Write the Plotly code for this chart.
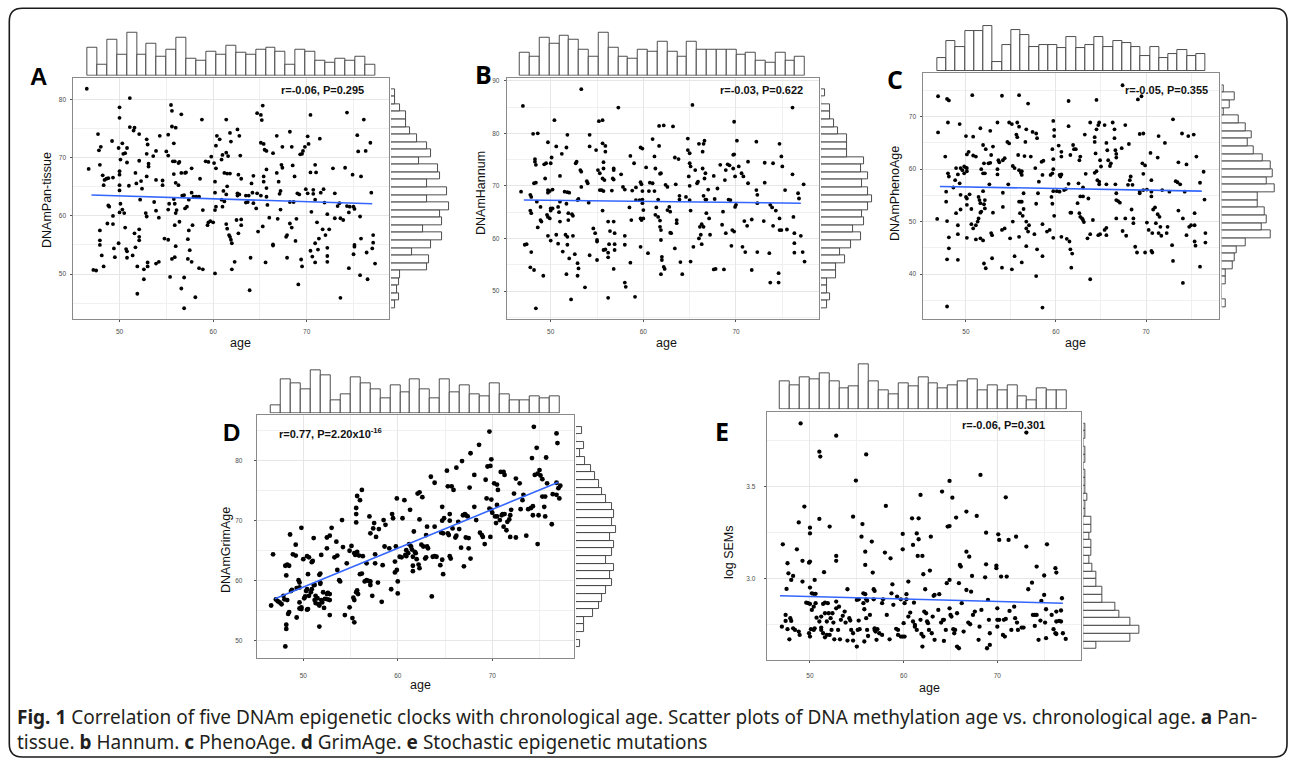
import numpy as np
import plotly.graph_objects as go

W, H = 1290, 768

# ======================= DATA =======================
# Panel A: age vs DNAmPan-tissue
A_points = [(46.5,81.9),(46.7,68.1),(47.2,50.7),(47.5,50.6),(47.7,74.1),(47.8,71.3),(47.9,68.8),(48.0,71.9),(48.2,67.0),(48.3,65.3),
(48.4,66.2),(47.9,57.5),(47.9,55.8),(47.9,55.0),(48.1,53.2),(48.3,51.3),(48.6,66.4),(48.8,66.5),(48.8,61.8),(48.9,61.6),
(48.7,58.7),(49.2,72.9),(49.3,66.6),(49.3,60.0),(49.3,58.6),(49.4,54.4),(49.5,52.9),(49.9,71.7),(50.0,67.1),(50.0,67.7),
(50.0,78.7),(50.0,76.9),(50.0,65.3),(50.0,64.4),(50.1,62.1),(50.0,60.6),(49.9,55.3),(50.1,69.7),(50.3,72.5),(50.4,70.7),
(50.6,70.8),(50.3,61.1),(50.5,60.5),(50.6,58.0),(50.7,54.3),(50.8,53.9),(50.8,52.8),(50.8,71.7),(50.8,69.2),(51.1,80.3),
(51.1,75.3),(51.6,75.2),(51.5,74.7),(51.0,65.2),(51.4,53.2),(51.7,67.4),(51.8,65.6),(51.7,54.6),(51.6,57.0),(52.1,74.1),
(52.1,69.5),(52.2,62.8),(52.1,57.7),(52.1,56.4),(52.1,55.8),(51.9,51.3),(51.9,46.6),(52.3,66.0),(52.4,64.7),(52.6,50.8),
(52.6,49.1),(52.9,73.2),(53.0,72.3),(52.9,70.7),(52.9,66.8),(53.1,69.0),(53.1,68.5),(52.8,60.5),(52.9,59.9),(53.0,52.0),
(53.0,51.3),(53.6,70.3),(53.9,71.2),(53.9,66.2),(53.7,62.4),(53.9,60.9),(54.2,59.7),(53.9,51.8),(54.2,52.1),(54.3,73.8),
(54.6,66.1),(54.6,65.3),(54.8,56.1),(55.2,55.9),(55.0,71.1),(55.2,70.4),(55.2,74.0),(55.2,61.1),(55.3,62.1),(55.4,49.5),
(55.5,79.1),(55.6,78.1),(55.6,75.4),(56.0,75.2),(55.8,72.5),(55.7,69.4),(55.9,69.4),(56.3,69.1),(56.4,69.3),(55.8,67.2),
(56.0,65.7),(55.8,62.9),(55.9,62.1),(56.1,61.0),(56.0,60.5),(55.9,58.4),(56.0,54.8),(55.6,52.6),(55.9,52.9),(56.4,59.0),
(56.3,65.3),(56.6,77.5),(56.6,67.4),(57.0,67.4),(57.1,67.5),(56.7,63.5),(56.9,63.6),(57.0,61.3),(57.2,61.6),(57.4,62.8),
(57.7,64.0),(57.4,57.5),(57.3,56.0),(57.5,54.1),(57.3,52.6),(57.7,52.1),(56.6,47.5),(56.9,49.4),(58.1,46.0),(56.9,44.1),
(57.7,68.2),(57.8,58.4),(57.9,63.3),(58.2,63.3),(58.5,63.3),(58.5,51.0),(58.9,50.8),(58.8,76.6),(58.6,66.4),(58.9,61.0),
(59.2,69.4),(59.5,69.3),(59.4,58.4),(59.5,58.9),(59.7,59.1),(60.0,58.9),(59.8,70.2),(60.1,69.1),(60.3,72.1),(60.4,73.8),
(60.2,65.9),(60.3,68.2),(60.2,64.0),(60.3,61.6),(60.2,61.0),(60.2,50.1),(60.7,73.2),(60.9,69.7),(61.0,70.5),(60.9,62.8),
(61.0,61.6),(61.1,64.3),(61.2,67.4),(61.4,76.6),(61.4,70.9),(61.6,70.3),(61.5,67.3),(61.8,67.3),(61.5,65.1),(61.4,63.7),
(61.2,62.5),(61.4,58.6),(61.5,57.8),(61.7,56.7),(61.8,56.4),(61.9,55.9),(62.0,55.3),(62.0,50.8),(62.3,52.1),(61.8,74.3),
(61.9,72.8),(62.6,74.9),(62.8,73.8),(62.9,70.4),(62.7,67.1),(63.0,66.4),(62.6,63.9),(62.6,63.5),(62.8,63.7),(62.5,59.3),
(63.0,59.4),(62.7,57.0),(63.0,58.4),(63.5,63.5),(63.8,63.5),(64.2,64.0),(63.5,62.3),(63.7,62.4),(63.9,47.2),(64.0,52.8),
(64.1,65.6),(64.3,66.9),(64.3,62.2),(64.6,61.3),(64.7,77.7),(65.1,77.4),(65.3,79.0),(65.2,76.5),(65.1,72.6),(65.4,72.4),
(65.4,66.8),(65.4,65.9),(64.7,63.9),(65.1,63.5),(64.8,57.3),(65.3,58.2),(65.6,52.0),(65.5,71.4),(65.7,71.2),(65.7,68.0),
(65.7,64.8),(65.7,63.3),(65.8,61.9),(66.0,59.7),(66.4,55.1),(66.4,54.9),(66.4,70.8),(66.8,73.8),(66.8,67.4),(67.0,65.9),
(67.2,64.3),(67.1,63.8),(66.9,59.5),(67.2,61.1),(67.3,68.8),(67.4,68.3),(67.4,71.9),(67.9,52.8),(67.8,56.4),(67.9,56.7),
(68.2,74.5),(68.2,62.4),(68.6,62.4),(68.2,58.7),(68.4,58.0),(68.4,71.9),(68.5,68.7),(68.7,66.8),(68.8,55.7),(69.1,48.2),
(69.3,70.6),(69.5,70.7),(69.6,71.2),(69.8,71.9),(69.0,63.9),(69.2,63.7),(69.4,52.5),(69.5,51.3),(68.9,59.5),(69.9,64.6),
(70.1,63.9),(70.1,73.7),(70.2,72.4),(70.4,77.4),(70.4,67.5),(70.5,60.7),(70.4,54.0),(70.6,53.0),(70.7,64.5),(70.7,63.8),
(70.9,68.8),(71.0,67.5),(70.9,62.8),(70.9,52.0),(70.9,55.3),(71.1,58.9),(71.2,54.2),(71.3,56.1),(71.5,64.0),(71.4,73.3),
(71.7,57.7),(71.8,64.6),(71.9,62.3),(72.2,60.3),(72.0,56.7),(72.2,54.5),(72.2,53.1),(72.2,52.1),(72.4,57.7),(72.8,68.2),
(73.0,63.9),(73.3,61.7),(73.5,62.2),(73.0,59.6),(73.6,59.6),(73.9,59.3),(73.6,45.9),(74.1,68.3),(74.3,61.7),(74.3,77.8),
(74.5,51.0),(74.5,60.6),(74.6,61.6),(75.0,61.6),(75.1,61.2),(74.9,67.1),(75.1,55.0),(75.0,53.4),(75.1,54.7),(75.4,73.9),
(75.5,71.1),(75.8,66.8),(75.7,59.9),(75.8,56.1),(75.7,49.8),(76.1,76.6),(76.3,71.2),(76.4,53.7),(76.5,49.1),(76.8,72.6),
(76.9,64.0),(77.0,54.4),(77.1,55.4),(77.1,56.7),(77.3,51.8)]
A_fit_age = [47.0, 77.0]
A_fit_val = [63.6, 62.1]
A_top_counts = [15,6,19,11,23,11,17,10,14,20,9,8,13,11,16,12,11,14,15,13,6,14,13,8,7,9,8,10,6]
A_top_range = [46.55, 77.29]
A_right_counts = [2,4,3,4,5,19,20,11,21,27,17,27,26,31,19,30,19,26,25,15,21,19,14,10,8,8,5,2,2]
A_right_range = [44.09, 81.86]

# Panel B: age vs DNAmHannum
B_points = [(46.8,68.9),(47.0,85.2),(47.2,58.8),(47.4,58.9),(47.8,68.3),(47.9,67.9),(47.8,65.3),(47.9,64.8),(47.9,57.4),(47.8,54.5),
(48.2,54.0),(48.1,79.9),(48.6,80.0),(48.3,75.1),(48.3,74.6),(48.4,74.0),(48.2,70.5),(48.4,70.6),(48.4,46.7),(48.5,67.0),
(48.6,62.1),(48.9,63.5),(49.0,63.2),(48.9,66.0),(49.2,52.9),(49.3,74.1),(49.5,74.3),(49.4,71.4),(49.7,78.3),(49.7,69.2),
(49.7,68.7),(49.9,69.0),(49.6,64.5),(49.7,64.1),(49.9,63.8),(49.7,60.5),(50.0,59.6),(50.0,65.7),(50.0,65.3),(50.2,65.7),
(50.0,74.3),(50.1,75.4),(50.2,69.3),(50.4,82.5),(50.6,77.5),(50.6,60.7),(50.8,59.0),(50.8,66.0),(50.9,65.0),(51.0,63.2),
(51.0,71.9),(51.0,67.0),(51.2,76.1),(51.3,57.5),(51.6,60.7),(51.8,60.3),(51.8,58.8),(51.5,68.9),(51.8,68.8),(52.0,68.7),
(51.7,77.3),(51.8,79.7),(51.7,66.6),(51.9,64.8),(51.9,63.5),(52.0,56.2),(51.7,53.2),(52.2,48.4),(52.3,64.6),(52.4,64.3),
(52.4,60.5),(52.6,57.0),(52.7,74.3),(52.8,74.6),(52.9,67.3),(53.0,67.5),(52.9,55.3),(53.0,54.3),(52.9,52.9),(53.2,73.0),
(53.3,72.7),(53.3,69.8),(53.3,88.4),(53.7,50.7),(53.9,70.9),(54.0,70.5),(54.1,66.8),(54.2,56.8),(54.2,79.7),(54.2,77.5),
(54.6,61.9),(54.8,61.0),(54.9,76.8),(55.0,59.7),(55.0,59.4),(55.0,55.9),(55.1,73.0),(55.3,72.4),(55.2,82.3),(55.6,82.5),
(55.3,69.2),(55.5,69.2),(55.7,69.0),(55.6,78.1),(55.9,77.6),(55.7,74.5),(55.7,73.3),(55.6,71.4),(55.8,71.1),(55.6,65.3),
(55.7,57.8),(55.9,57.9),(55.9,76.5),(56.2,56.4),(56.2,57.3),(56.2,63.2),(56.4,61.4),(56.2,48.7),(56.3,58.9),(56.6,69.1),
(56.8,73.3),(56.8,73.0),(56.7,71.4),(56.8,71.2),(56.8,63.2),(56.9,61.0),(56.9,57.8),(56.9,58.9),(56.8,54.2),(57.3,84.9),
(57.6,72.2),(57.8,69.8),(58.0,69.3),(58.0,60.5),(58.0,58.8),(58.0,51.6),(58.1,50.8),(58.5,65.9),(58.6,55.4),(58.6,75.7),
(58.7,63.5),(58.8,69.1),(59.0,74.3),(59.1,48.9),(59.2,69.7),(59.2,67.3),(59.6,67.3),(59.9,67.4),(59.7,70.7),(59.8,70.3),
(59.9,69.0),(59.7,77.3),(59.9,77.1),(59.7,58.4),(59.7,63.8),(59.8,63.5),(60.0,63.8),(59.9,66.7),(60.0,65.4),(60.3,73.5),
(60.6,69.0),(60.5,57.2),(60.7,70.6),(61.0,70.5),(61.2,69.0),(61.0,78.9),(61.2,75.6),(61.3,73.3),(61.4,65.9),(61.3,64.5),
(61.6,64.1),(61.8,63.4),(61.6,67.4),(61.7,81.4),(62.2,81.5),(61.7,77.6),(61.8,72.3),(61.9,72.4),(61.8,62.2),(61.9,61.6),
(61.9,59.7),(62.0,56.5),(62.0,55.9),(62.2,54.6),(62.3,54.2),(61.9,53.2),(62.4,70.2),(62.6,69.8),(62.6,65.4),(62.8,66.0),
(62.9,65.1),(62.9,61.1),(63.0,61.0),(63.2,81.3),(63.4,75.4),(63.8,75.1),(63.4,58.1),(63.5,70.3),(63.6,63.5),(63.6,62.9),
(63.9,68.1),(63.9,67.4),(64.0,55.5),(64.2,53.2),(64.6,67.9),(64.8,79.0),(64.8,76.8),(65.0,76.2),(64.9,71.8),(65.0,70.0),
(65.0,74.3),(65.1,73.7),(65.0,67.3),(65.1,65.3),(65.1,55.6),(65.3,85.4),(65.4,58.4),(65.6,73.0),(65.8,70.5),(65.9,70.8),
(66.0,60.0),(66.0,78.0),(66.5,78.0),(66.1,62.2),(66.3,62.7),(66.5,62.2),(66.2,60.7),(66.3,58.9),(66.4,76.5),(66.6,78.6),
(66.4,73.3),(66.7,72.4),(66.5,68.1),(66.7,67.4),(66.6,71.4),(66.8,67.4),(67.0,69.3),(66.8,64.8),(67.1,63.8),(67.2,60.7),
(67.6,54.1),(67.8,54.2),(67.6,71.9),(67.7,67.5),(68.0,69.5),(68.3,74.0),(68.5,62.6),(68.6,65.1),(68.7,54.1),(68.8,71.1),
(68.9,73.0),(69.1,74.1),(69.3,73.9),(68.9,61.0),(69.2,67.4),(69.4,67.3),(69.5,58.6),(69.7,75.9),(69.8,76.0),(69.7,73.3),
(69.9,71.8),(69.6,61.6),(69.8,61.3),(69.8,82.2),(69.9,66.0),(70.0,66.4),(70.1,78.6),(70.3,73.7),(70.6,72.4),(70.8,71.8),
(70.7,58.4),(71.0,57.4),(70.9,63.3),(71.2,62.4),(71.3,70.5),(71.3,74.6),(71.7,54.0),(71.7,63.6),(72.2,78.4),(72.2,69.2),
(72.3,68.3),(72.3,57.4),(72.3,66.7),(73.1,70.6),(73.0,63.3),(73.1,74.4),(73.7,66.4),(73.9,65.9),(73.6,57.2),(73.7,51.6),
(74.0,74.3),(74.0,62.4),(74.3,65.3),(74.6,53.4),(74.6,51.6),(74.7,78.0),(74.7,63.8),(74.7,61.6),(74.9,61.6),(74.9,75.6),
(75.0,73.7),(75.3,69.2),(75.5,61.7),(76.1,84.9),(76.1,72.2),(76.2,64.1),(76.3,61.0),(76.3,59.1),(76.3,57.3),(76.7,68.6),
(76.8,67.6),(77.0,60.5),(77.2,57.4),(77.3,70.3),(77.4,55.6)]
B_fit_age = [47.1, 77.0]
B_fit_val = [67.3, 66.7]
B_top_counts = [12,10,20,17,21,19,14,10,23,15,10,9,14,13,18,13,10,18,14,14,14,14,11,12,8,7,12,8,10]
B_top_range = [46.69, 77.45]
B_right_counts = [3,5,3,3,8,8,13,10,16,21,17,23,22,25,27,25,22,25,21,23,14,14,14,9,7,5,5,0,2]
B_right_range = [46.71, 88.42]

# Panel C: age vs DNAmPhenoAge
C_points = [(46.9,73.9),(46.9,67.0),(46.8,50.5),(47.7,62.4),(47.8,55.7),(47.8,53.8),(47.9,73.4),(48.1,73.1),(48.0,68.9),(48.0,59.2),
(48.1,58.6),(47.9,50.1),(47.9,42.8),(48.1,44.9),(48.1,47.0),(47.9,33.8),(48.6,56.5),(48.8,57.9),(48.9,60.2),(49.1,59.0),
(48.9,51.6),(49.1,49.3),(49.1,47.6),(49.1,42.7),(49.3,68.6),(49.4,60.2),(49.6,59.8),(49.8,59.2),(49.3,57.3),(49.4,55.1),
(49.4,52.3),(49.8,60.5),(50.0,60.3),(50.1,59.6),(50.1,60.2),(50.0,66.3),(50.1,62.8),(50.0,54.7),(50.1,54.4),(50.1,53.2),
(50.1,46.9),(50.3,63.3),(50.4,55.2),(50.6,52.4),(50.6,49.5),(50.8,48.7),(50.7,74.1),(50.8,66.2),(50.8,62.6),(51.1,49.3),
(51.1,62.4),(51.1,46.6),(51.3,50.0),(51.4,50.6),(51.6,51.7),(51.4,54.7),(51.5,54.1),(51.6,53.5),(51.6,67.8),(51.6,46.8),
(51.9,46.4),(51.7,60.0),(52.0,61.1),(51.9,64.6),(52.2,63.8),(51.9,59.2),(52.1,59.2),(51.9,55.8),(52.1,54.1),(52.0,53.3),
(52.1,52.5),(52.0,42.0),(52.2,41.1),(51.7,51.9),(52.5,61.1),(52.7,61.2),(52.6,57.1),(52.7,67.3),(52.8,62.7),(52.8,47.8),
(52.9,47.4),(53.0,51.7),(53.0,64.3),(52.9,43.0),(53.5,68.9),(53.5,60.0),(53.5,59.0),(53.6,61.7),(53.7,61.3),(54.0,74.0),
(54.0,41.2),(54.0,48.4),(54.1,52.8),(54.1,61.7),(54.3,62.1),(54.1,55.5),(54.3,48.7),(54.6,65.2),(54.8,64.9),(54.7,57.1),
(54.8,68.9),(55.1,68.6),(54.9,46.8),(55.1,40.9),(55.2,60.6),(55.4,60.2),(55.2,50.0),(55.4,43.4),(55.6,66.6),(55.7,66.1),
(55.7,68.9),(55.9,68.1),(55.8,62.7),(55.9,74.1),(55.9,59.8),(56.1,59.3),(56.2,59.6),(55.9,53.8),(56.1,53.8),(56.2,53.8),
(55.9,47.1),(56.2,58.9),(56.0,51.6),(56.3,51.1),(56.2,42.2),(56.4,55.4),(56.4,52.4),(56.5,62.5),(56.6,65.2),(56.7,50.0),
(56.7,48.7),(56.9,48.1),(56.7,45.3),(56.7,67.6),(56.9,72.5),(57.0,49.3),(57.2,62.4),(57.4,67.1),(57.8,66.8),(57.6,47.6),
(57.7,60.2),(57.8,53.4),(57.9,44.7),(57.9,65.9),(58.0,55.4),(57.8,39.6),(58.1,57.6),(58.4,61.4),(58.6,61.6),(58.5,58.9),
(58.5,49.5),(58.5,43.4),(58.5,33.6),(59.0,48.1),(59.3,48.4),(59.5,54.7),(59.7,55.8),(59.4,58.9),(59.6,59.2),(59.7,60.0),
(59.7,61.9),(59.6,63.8),(59.7,69.2),(59.8,67.5),(59.8,66.3),(59.6,53.4),(59.8,51.1),(59.7,46.9),(60.1,55.8),(60.4,55.7),
(60.3,64.5),(60.4,58.9),(60.6,59.0),(60.5,58.6),(60.6,63.3),(60.6,62.4),(60.6,47.1),(60.9,56.0),(61.1,56.2),(61.2,46.7),
(61.4,68.2),(61.4,57.2),(61.4,73.0),(61.5,46.2),(61.6,51.7),(61.7,51.7),(61.6,44.7),(61.8,43.9),(61.6,62.7),(61.9,64.6),
(61.7,41.2),(62.0,63.8),(62.2,63.8),(62.4,53.5),(62.5,57.3),(62.6,61.7),(62.7,62.4),(62.6,51.6),(62.7,50.9),(62.7,54.8),
(63.0,54.8),(62.9,50.6),(63.0,50.3),(63.0,56.5),(63.1,49.9),(63.2,66.6),(63.3,59.1),(63.5,46.8),(63.6,54.4),(63.8,39.0),
(63.8,68.9),(63.8,47.6),(64.1,50.3),(64.3,65.2),(64.3,66.1),(64.3,59.3),(64.5,59.6),(64.4,63.0),(64.5,67.6),(64.7,68.4),
(64.8,68.9),(64.5,73.2),(64.6,57.9),(64.8,57.6),(64.7,47.4),(64.9,47.6),(64.8,57.1),(64.9,61.7),(65.0,60.5),(65.4,48.4),
(65.6,48.8),(65.4,68.4),(65.6,47.4),(65.6,57.1),(65.6,65.0),(65.7,63.6),(65.8,61.7),(66.0,60.6),(66.1,61.1),(66.3,68.9),
(66.5,67.6),(66.5,65.9),(66.6,63.6),(66.7,62.9),(66.7,62.2),(66.6,57.1),(66.7,55.4),(66.7,54.1),(66.9,53.9),(67.1,53.6),
(66.7,50.6),(67.3,64.0),(67.4,48.2),(67.7,68.4),(67.7,50.6),(67.8,47.3),(68.0,57.0),(68.2,57.9),(68.1,64.8),(68.3,58.6),
(68.4,52.3),(68.6,50.6),(68.6,49.7),(68.5,57.0),(69.0,44.1),(69.9,44.1),(68.8,45.2),(69.1,73.3),(69.3,66.7),(69.3,55.7),
(69.3,55.4),(69.5,73.9),(69.6,61.1),(69.7,66.8),(69.7,59.1),(69.7,56.0),(70.1,56.1),(69.9,60.7),(70.1,49.8),(70.3,48.4),
(70.5,63.1),(70.6,55.7),(70.6,54.8),(70.6,57.9),(70.6,44.4),(70.7,44.1),(70.7,47.8),(70.8,52.3),(71.0,52.7),(71.1,49.7),
(71.3,62.2),(71.3,51.4),(71.5,50.9),(71.4,66.3),(71.4,47.8),(71.6,49.0),(71.8,56.0),(71.7,47.3),(72.1,65.0),(72.3,47.8),
(72.4,49.0),(72.6,55.7),(72.9,45.5),(73.0,69.5),(73.0,42.5),(73.3,57.7),(73.5,57.5),(73.6,61.3),(73.8,57.1),(73.6,52.1),
(74.0,66.8),(74.1,50.6),(74.1,38.3),(74.3,55.7),(74.5,60.9),(74.5,47.4),(74.7,66.3),(74.8,49.0),(75.0,49.3),(75.4,49.3),
(75.3,66.6),(75.4,51.6),(75.4,46.2),(75.5,45.4),(75.6,62.4),(76.0,57.4),(76.0,41.4),(76.4,59.5),(76.5,54.2),(76.6,47.8),
(76.6,46.0),(67.4,76.0)]
C_fit_age = [47.1, 76.2]
C_fit_val = [56.7, 55.8]
C_top_counts = [7,16,13,21,21,24,5,14,22,19,13,14,14,12,18,12,14,18,13,16,15,13,8,13,7,9,11,8,9]
C_top_range = [46.81, 76.59]
C_right_counts = [2,0,0,2,2,6,7,8,13,26,21,24,23,19,19,28,24,27,26,22,17,14,16,13,9,1,4,7,1]
C_right_range = [33.65, 76.05]

# Panel D: age vs DNAmGrimAge
D_points = [(46.6,55.9),(46.8,64.4),(47.1,56.9),(47.3,56.6),(47.5,56.4),(47.7,56.1),(47.9,57.5),(48.0,56.9),(48.1,62.5),(48.3,62.7),
(48.5,62.5),(48.2,60.9),(48.2,52.7),(48.2,52.0),(48.1,49.1),(48.3,56.8),(48.4,54.5),(48.5,54.8),(48.6,67.7),(48.7,58.3),
(48.8,58.5),(48.9,64.4),(49.2,64.2),(49.2,66.0),(49.3,58.8),(49.5,60.1),(49.3,53.9),(49.6,56.4),(49.6,59.7),(49.6,58.9),
(49.6,55.4),(49.8,55.3),(49.8,55.6),(49.8,68.8),(50.0,63.6),(50.1,57.1),(50.2,57.4),(50.3,58.3),(50.4,58.6),(50.4,55.2),
(50.5,55.3),(50.4,64.1),(50.6,63.9),(50.5,61.1),(50.6,57.5),(50.8,58.1),(50.9,58.6),(50.9,63.1),(51.0,63.3),(51.1,59.3),
(51.2,59.3),(51.2,56.8),(51.3,56.3),(51.1,67.1),(51.3,57.5),(51.5,57.1),(51.6,56.1),(51.7,55.9),(51.7,61.0),(51.8,61.2),
(51.8,59.5),(51.8,59.7),(51.7,52.4),(51.9,64.3),(51.9,56.8),(52.0,56.4),(52.1,58.1),(52.3,57.0),(52.5,57.8),(52.2,55.5),
(52.5,65.4),(52.5,67.2),(52.8,67.5),(52.6,58.0),(52.8,57.8),(52.6,56.9),(52.8,56.8),(52.8,54.3),(53.0,68.8),(53.3,63.9),
(53.5,66.5),(53.6,64.2),(53.6,61.8),(53.8,60.1),(53.9,59.9),(54.1,70.1),(54.2,65.6),(54.4,54.3),(54.6,62.9),(54.9,55.6),
(54.9,65.0),(55.1,65.8),(55.2,53.8),(55.4,53.1),(55.3,57.2),(55.4,56.8),(55.4,64.6),(55.5,64.3),(55.6,71.1),(55.6,72.1),
(56.0,73.4),(55.6,58.1),(55.7,58.4),(55.6,69.7),(55.7,74.1),(55.7,64.8),(55.9,64.2),(55.8,57.8),(56.0,61.1),(56.2,61.2),
(56.2,75.1),(56.3,64.1),(56.5,59.9),(56.7,60.1),(56.7,62.9),(56.9,60.0),(57.1,59.9),(57.1,59.3),(57.0,70.7),(57.1,67.9),
(57.4,68.7),(57.3,57.5),(57.5,69.6),(57.6,64.4),(57.6,62.9),(57.7,67.3),(57.9,59.7),(58.0,68.6),(58.3,56.5),(58.4,62.6),
(58.5,70.1),(58.6,65.7),(58.7,69.3),(59.1,65.4),(59.3,58.6),(59.4,71.1),(59.5,70.4),(59.8,65.7),(59.7,63.2),(59.7,61.4),
(59.9,61.8),(59.9,73.7),(60.0,59.9),(60.0,57.9),(60.2,64.0),(60.4,63.9),(60.5,70.4),(60.7,73.4),(60.8,64.3),(60.9,64.1),
(60.9,65.1),(61.1,64.6),(61.2,66.1),(61.4,65.7),(61.3,71.8),(61.5,65.2),(61.6,64.0),(61.6,62.5),(61.6,61.6),(61.7,68.2),
(61.8,64.8),(61.9,64.6),(62.0,63.6),(62.2,62.7),(62.1,74.5),(62.3,74.7),(62.3,70.2),(62.3,62.1),(62.5,66.0),(62.7,65.7),
(62.6,73.9),(62.9,63.7),(63.0,63.9),(63.1,65.7),(63.2,65.4),(63.1,69.0),(63.0,67.6),(63.5,77.3),(63.6,57.4),(63.7,64.0),
(63.9,64.1),(64.1,64.0),(63.9,76.3),(63.9,69.0),(64.5,62.6),(64.7,63.5),(64.7,72.3),(64.8,61.1),(64.7,70.0),(64.9,70.4),
(64.6,68.0),(64.8,67.9),(65.2,78.3),(65.3,67.9),(65.4,67.6),(65.3,75.7),(65.7,75.7),(65.5,71.1),(65.5,70.0),(65.5,64.1),
(65.6,63.7),(65.8,68.7),(65.9,75.1),(66.1,67.2),(66.2,67.5),(66.2,78.8),(66.4,69.8),(66.5,68.6),(66.7,65.5),(66.8,79.9),
(66.9,70.9),(67.1,71.1),(67.0,62.4),(67.2,70.9),(67.4,70.7),(67.2,67.2),(67.5,67.1),(67.5,65.4),(67.6,75.5),(67.7,81.2),
(67.7,63.7),(68.1,77.6),(68.1,72.3),(68.3,70.1),(68.6,82.6),(68.7,68.0),(68.9,67.6),(69.0,67.3),(69.2,66.1),(69.3,76.8),
(69.4,73.7),(69.5,79.0),(69.8,79.1),(69.7,84.8),(69.9,80.2),(69.7,72.0),(69.9,71.8),(69.8,67.3),(69.9,73.5),(70.0,71.3),
(70.2,76.2),(70.5,76.0),(70.3,70.7),(70.5,70.7),(70.4,69.6),(70.5,72.6),(70.6,75.1),(70.8,70.1),(71.0,70.9),(70.9,78.1),
(71.2,78.1),(71.1,71.1),(71.3,71.1),(71.2,69.0),(71.3,77.6),(71.5,68.4),(71.6,69.8),(71.8,70.2),(71.9,70.9),(71.9,67.3),
(72.0,71.8),(72.3,74.5),(72.5,77.0),(72.5,67.2),(72.9,76.2),(73.0,71.9),(73.2,73.4),(73.3,74.3),(73.6,67.5),(73.8,71.9),
(74.1,72.1),(74.3,72.4),(74.2,80.4),(74.3,70.9),(74.4,85.6),(74.5,77.6),(74.8,77.8),(74.7,82.1),(74.8,66.1),(74.9,70.9),
(75.0,78.4),(75.1,77.5),(75.3,76.9),(75.3,74.0),(75.6,74.0),(75.5,72.3),(75.6,70.7),(75.7,80.5),(75.8,76.2),(76.3,69.4),
(76.4,74.4),(76.8,84.5),(76.9,82.9),(76.8,76.3),(77.0,75.4),(76.8,74.3),(77.1,73.7),(77.2,75.8)]
D_fit_age = [47.0, 77.0]
D_fit_val = [57.0, 76.4]
D_top_counts = [4,18,16,13,23,20,7,10,19,16,13,8,15,11,18,13,8,18,11,15,10,9,16,10,7,7,9,8,9]
D_top_range = [46.58, 77.09]
D_right_counts = [2,0,4,4,9,12,14,16,19,18,20,16,19,20,18,21,19,20,19,16,14,12,10,8,5,2,4,0,3]
D_right_range = [48.95, 85.62]

# Panel E: age vs log SEMs
E_points = [(47.1,3.185),(47.0,2.736),(47.4,2.800),(47.4,2.767),(47.5,2.942),(47.6,3.082),(47.7,3.027),(47.6,2.722),(47.8,2.667),(47.9,2.782),
(48.0,2.991),(48.2,3.013),(48.2,2.727),(48.0,2.767),(48.4,2.718),(48.6,3.158),(48.8,2.709),(48.9,2.691),(48.8,3.305),(49.0,3.845),
(49.2,3.095),(49.2,2.982),(49.4,3.391),(49.6,2.867),(49.8,2.864),(50.0,2.860),(49.9,3.085),(50.0,3.091),(50.0,3.276),(50.0,3.245),
(50.0,2.949),(49.9,2.700),(50.0,2.682),(50.2,2.827),(50.2,2.918),(50.4,2.915),(50.1,2.722),(50.4,2.718),(50.5,2.727),(50.4,2.845),
(50.5,2.991),(50.6,2.915),(50.6,2.864),(50.7,2.785),(51.0,3.691),(51.1,3.664),(51.0,3.324),(51.0,2.764),(51.2,2.731),(51.2,2.718),
(51.2,2.791),(51.4,2.860),(51.6,2.867),(51.4,2.700),(51.6,2.678),(51.5,3.033),(51.6,2.809),(51.8,2.764),(52.0,2.809),(51.9,2.864),
(51.8,2.691),(52.1,2.691),(52.1,3.282),(52.2,2.782),(52.3,2.718),(52.4,2.809),(52.5,2.758),(52.6,2.667),(52.8,3.778),(52.8,3.095),
(52.8,3.122),(52.8,2.873),(52.8,2.836),(53.0,2.718),(53.1,2.845),(53.2,2.667),(53.3,2.773),(53.5,2.795),(53.7,2.818),(53.8,2.758),
(54.0,2.940),(54.0,2.660),(54.2,2.782),(54.3,2.769),(54.4,2.718),(54.6,2.700),(54.6,3.336),(54.6,2.660),(54.9,3.533),(55.0,2.627),
(55.0,2.882),(55.2,2.885),(55.1,2.718),(55.3,2.722),(55.2,2.769),(55.5,3.227),(55.6,3.296),(55.7,2.918),(55.9,2.913),(55.7,2.864),
(55.8,2.831),(55.8,2.655),(55.9,3.145),(55.9,3.073),(56.0,3.676),(56.0,2.782),(56.1,2.718),(56.0,2.885),(56.1,2.878),(56.2,2.685),
(56.4,2.800),(56.6,3.200),(56.7,3.031),(56.8,2.940),(56.9,2.931),(56.8,2.885),(56.9,2.718),(57.0,2.709),(56.9,2.727),(57.1,2.664),
(57.2,2.722),(57.4,2.700),(57.7,2.691),(57.7,2.864),(57.8,2.885),(58.0,3.140),(58.1,3.395),(58.2,2.800),(58.5,2.667),(58.6,3.109),
(58.7,2.918),(58.8,2.967),(58.9,2.855),(59.2,2.724),(59.4,2.718),(59.3,2.900),(59.4,2.691),(59.7,2.682),(59.9,2.682),(59.7,2.885),
(59.9,3.242),(59.9,3.158),(60.0,2.755),(60.1,2.682),(60.1,2.864),(60.3,2.885),(60.3,2.913),(60.5,2.982),(60.5,2.791),(60.7,2.813),
(60.9,3.327),(61.0,3.182),(61.0,2.764),(61.2,2.745),(61.1,2.867),(61.2,2.736),(61.4,2.718),(61.4,3.245),(61.5,3.122),(61.6,3.327),
(61.6,3.213),(61.8,3.455),(61.8,2.773),(61.9,2.696),(62.0,2.627),(62.0,3.122),(62.1,3.022),(62.1,2.682),(62.3,2.940),(62.2,2.818),
(62.4,2.809),(62.5,2.764),(62.6,2.755),(62.7,2.718),(62.8,3.042),(62.9,3.227),(63.0,2.700),(63.1,2.791),(63.2,2.904),(63.3,2.909),
(63.3,2.664),(63.7,2.827),(63.8,2.913),(64.0,2.758),(64.1,3.473),(64.2,2.773),(64.3,2.773),(64.3,2.658),(64.5,2.718),(64.6,2.973),
(64.7,3.282),(64.9,3.285),(64.9,2.836),(64.9,3.531),(64.9,2.991),(65.0,2.800),(65.1,2.791),(65.2,3.440),(65.3,2.722),(65.5,2.718),
(65.4,2.700),(65.6,3.331),(65.7,2.627),(65.9,2.618),(65.7,2.809),(65.9,2.973),(66.0,3.073),(66.1,3.064),(66.2,2.864),(66.4,2.709),
(66.7,2.936),(66.7,3.364),(66.7,3.145),(66.9,2.758),(67.1,2.749),(67.0,3.118),(67.2,2.927),(67.3,3.013),(67.4,2.800),(67.6,2.818),
(67.8,3.340),(68.0,2.664),(68.1,2.736),(68.2,3.564),(68.3,2.827),(68.7,3.005),(68.8,3.076),(68.8,3.249),(68.9,2.618),(69.2,2.636),
(69.0,2.882),(69.2,2.700),(69.1,2.773),(69.9,3.069),(69.9,3.055),(70.0,2.773),(70.2,2.773),(70.0,2.736),(70.0,2.836),(70.1,3.240),
(70.2,3.209),(70.4,3.009),(70.6,2.691),(70.8,2.682),(70.7,2.773),(70.9,2.778),(70.9,3.442),(71.0,3.009),(71.2,3.209),(71.3,2.822),
(71.5,2.718),(71.8,2.845),(71.9,2.782),(72.1,2.758),(72.0,3.227),(72.2,2.718),(72.6,2.731),(72.8,2.731),(73.1,3.173),(73.1,3.795),
(73.3,2.940),(73.7,2.976),(73.8,2.800),(74.0,2.800),(74.2,2.800),(74.0,2.740),(74.2,3.064),(74.4,2.664),(74.6,2.769),(74.7,2.876),
(75.0,3.015),(75.0,2.909),(75.1,2.758),(75.2,2.831),(75.3,3.185),(75.2,2.673),(75.8,2.800),(76.0,2.722),(76.2,3.055),(76.3,3.031),
(76.3,2.818),(76.3,2.764),(76.2,2.700),(76.3,2.696),(76.6,2.767),(76.8,2.824),(76.8,2.764),(76.9,2.891),(77.0,2.700),(77.3,2.669)]
E_fit_age = [46.8, 77.0]
E_fit_val = [2.905, 2.864]
E_top_counts = [15,13,17,16,19,15,11,12,24,15,10,8,14,12,17,14,11,13,15,16,10,13,10,13,7,5,11,10,10]
E_top_range = [46.8, 77.4]
E_right_counts = [7,25,30,25,19,17,10,10,7,7,5,3,4,4,3,4,4,1,1,2,1,1,1,0,1,1,0,1,1]
E_right_range = [2.613, 3.846]

Y_TITLES = ["DNAmPan-tissue", "DNAmHannum", "DNAmPhenoAge", "DNAmGrimAge", "log SEMs"]
X_TITLE = "age"
STATS = ["r=-0.06, P=0.295", "r=-0.03, P=0.622", "r=-0.05, P=0.355",
         "r=0.77, P=2.20x10<sup>-16</sup>", "r=-0.06, P=0.301"]
LETTERS = ["A", "B", "C", "D", "E"]
CAPTION = ("<b>Fig. 1</b> Correlation of five DNAm epigenetic clocks with chronological age. "
           "Scatter plots of DNA methylation age vs. chronological age. <b>a</b> Pan-<br>"
           "tissue. <b>b</b> Hannum. <b>c</b> PhenoAge. <b>d</b> GrimAge. "
           "<b>e</b> Stochastic epigenetic mutations")

DATA = [
    (A_points, A_fit_age, A_fit_val, A_top_counts, A_top_range, A_right_counts, A_right_range),
    (B_points, B_fit_age, B_fit_val, B_top_counts, B_top_range, B_right_counts, B_right_range),
    (C_points, C_fit_age, C_fit_val, C_top_counts, C_top_range, C_right_counts, C_right_range),
    (D_points, D_fit_age, D_fit_val, D_top_counts, D_top_range, D_right_counts, D_right_range),
    (E_points, E_fit_age, E_fit_val, E_top_counts, E_top_range, E_right_counts, E_right_range),
]

# ======================= LAYOUT (pixel geometry) =======================
PANELS = [
    dict(L=73.3, R=389.0, T=78.3, B=319.3, xr=[45.06, 78.79], yr=[42.2, 83.7], dy=10, my=5, fmt="d",
         topbase=75.7, rightbase=391.0, ms=3.8, xstand=4, ystand=3,
         ytitle=(47, 200), xtitle=(240, 343), stat=(366, 90, "right"), letter=(38, 77, "Liberation Sans", 24)),
    dict(L=506.7, R=819.0, T=78.3, B=319.3, xr=[45.25, 78.96], yr=[44.62, 90.46], dy=10, my=5, fmt="d",
         topbase=75.7, rightbase=821.0, ms=3.8, xstand=4, ystand=3,
         ytitle=(481, 193), xtitle=(666, 343), stat=(805, 90, "right"), letter=(483, 74, "Open Sans", 25)),
    dict(L=923.3, R=1219.0, T=73.3, B=319.3, xr=[45.26, 78.11], yr=[31.36, 78.28], dy=10, my=5, fmt="d",
         topbase=71.0, rightbase=1221.7, ms=3.8, xstand=4, ystand=3,
         ytitle=(895, 194), xtitle=(1075, 343), stat=(1210, 90, "right"), letter=(895, 79, "Open Sans", 25)),
    dict(L=256.7, R=574.0, T=415.0, B=657.7, xr=[45.07, 78.65], yr=[47.22, 87.56], dy=10, my=5, fmt="d",
         topbase=413.3, rightbase=576.0, ms=4.8, xstand=9, ystand=10,
         ytitle=(226, 550), xtitle=(420, 685), stat=(277, 433, "left"), letter=(231, 432, "Liberation Sans", 24)),
    dict(L=766.7, R=1080.7, T=411.7, B=660.0, xr=[45.38, 78.9], yr=[2.554, 3.909], dy=0.5, my=0.25, fmt=".1f",
         topbase=409.3, rightbase=1083.3, ms=4.3, xstand=7, ystand=7,
         ytitle=(729, 552), xtitle=(930, 688), stat=(1047, 425, "right"), letter=(722, 431, "Open Sans", 25)),
]
PX_PER_COUNT = 1.883
HIST_SPAN = 60.0


def fx(x):
    return x / W


def fy(y):
    return 1 - y / H


def axname(kind, k):
    return f"{kind}axis" if k == 1 else f"{kind}axis{k}"


def axref(kind, k):
    return kind if k == 1 else f"{kind}{k}"


layout = dict(width=W, height=H, margin=dict(l=0, r=0, t=0, b=0),
              paper_bgcolor="white", plot_bgcolor="white", showlegend=False,
              bargap=0, font=dict(family="Liberation Sans, Arial, sans-serif"))
traces = []
annotations = []

GRID = "#e6e6e6"
MINOR = "#f0f0f0"
FRAME = "#8a8a8a"
TICKFONT = dict(family="Liberation Sans, Arial, sans-serif", size=6.5, color="#4d4d4d")

for i, (p, d) in enumerate(zip(PANELS, DATA)):
    pts, fit_a, fit_v, top_c, top_r, right_c, right_r = d
    ks, kt, kr = 3 * i + 1, 3 * i + 2, 3 * i + 3
    xdom = [fx(p["L"]), fx(p["R"])]
    ydom = [fy(p["B"]), fy(p["T"])]

    common = dict(showline=True, mirror=True, linecolor=FRAME, linewidth=1,
                  ticks="outside", ticklen=2, tickwidth=0.8, tickcolor="#555555",
                  tickfont=TICKFONT, zeroline=False, showgrid=True, gridcolor=GRID, gridwidth=1)
    layout[axname("x", ks)] = dict(common, domain=xdom, range=p["xr"], anchor=axref("y", ks),
                                   tick0=0, dtick=10,
                                   minor=dict(tick0=0, dtick=5, showgrid=True, gridcolor=MINOR, gridwidth=0.8),
                                   ticklabelstandoff=p["xstand"])
    yax = dict(common, domain=ydom, range=p["yr"], anchor=axref("x", ks), tick0=0, dtick=p["dy"],
               minor=dict(tick0=0, dtick=p["my"], showgrid=True, gridcolor=MINOR, gridwidth=0.8),
               ticklabelstandoff=p["ystand"])
    if p["fmt"] != "d":
        yax["tickformat"] = p["fmt"]
    layout[axname("y", ks)] = yax

    ages = [a for a, _ in pts]
    vals = [v for _, v in pts]
    traces.append(go.Scatter(x=ages, y=vals, mode="markers",
                             marker=dict(color="black", size=p["ms"], line=dict(width=0)),
                             xaxis=axref("x", ks), yaxis=axref("y", ks), hoverinfo="skip"))
    traces.append(go.Scatter(x=fit_a, y=fit_v, mode="lines",
                             line=dict(color="#3366FF", width=1.6),
                             xaxis=axref("x", ks), yaxis=axref("y", ks), hoverinfo="skip"))

    # top marginal histogram
    n = len(top_c)
    tw = (top_r[1] - top_r[0]) / n
    tcent = top_r[0] + tw * (np.arange(n) + 0.5)
    layout[axname("x", kt)] = dict(domain=xdom, range=p["xr"], anchor=axref("y", kt), visible=False)
    layout[axname("y", kt)] = dict(domain=[fy(p["topbase"]), fy(p["topbase"] - HIST_SPAN)],
                                   range=[0, HIST_SPAN / PX_PER_COUNT], anchor=axref("x", kt), visible=False)
    traces.append(go.Bar(x=tcent, y=top_c, width=tw,
                         marker=dict(color="white", line=dict(color="#3a3a3a", width=0.9)),
                         xaxis=axref("x", kt), yaxis=axref("y", kt), hoverinfo="skip"))

    # right marginal histogram
    n = len(right_c)
    rw = (right_r[1] - right_r[0]) / n
    rcent = right_r[0] + rw * (np.arange(n) + 0.5)
    layout[axname("y", kr)] = dict(domain=ydom, range=p["yr"], anchor=axref("x", kr), visible=False)
    layout[axname("x", kr)] = dict(domain=[fx(p["rightbase"]), fx(p["rightbase"] + HIST_SPAN)],
                                   range=[0, HIST_SPAN / PX_PER_COUNT], anchor=axref("y", kr), visible=False)
    traces.append(go.Bar(y=rcent, x=right_c, width=rw, orientation="h",
                         marker=dict(color="white", line=dict(color="#3a3a3a", width=0.9)),
                         xaxis=axref("x", kr), yaxis=axref("y", kr), hoverinfo="skip"))

    # texts
    tx, ty = p["ytitle"]
    annotations.append(dict(text=Y_TITLES[i], x=fx(tx), y=fy(ty), xref="paper", yref="paper",
                            showarrow=False, textangle=-90, xanchor="center", yanchor="middle",
                            font=dict(family="Liberation Sans, Arial, sans-serif", size=12.5, color="#111")))
    tx, ty = p["xtitle"]
    annotations.append(dict(text=X_TITLE, x=fx(tx), y=fy(ty), xref="paper", yref="paper",
                            showarrow=False, xanchor="center", yanchor="middle",
                            font=dict(family="Liberation Sans, Arial, sans-serif", size=12.5, color="#111")))
    sx, sy, anc = p["stat"]
    annotations.append(dict(text="<b>" + STATS[i] + "</b>", x=fx(sx), y=fy(sy), xref="paper", yref="paper",
                            showarrow=False, xanchor=anc, yanchor="middle",
                            font=dict(family="Liberation Sans, Arial, sans-serif", size=11, color="#111")))
    lx, ly, lfam, lsize = p["letter"]
    annotations.append(dict(text="<b>" + LETTERS[i] + "</b>", x=fx(lx), y=fy(ly), xref="paper", yref="paper",
                            showarrow=False, xanchor="center", yanchor="middle",
                            font=dict(family=lfam, size=lsize, color="black")))

# caption (two lines in one text block)
annotations.append(dict(text=CAPTION, x=fx(15), y=fy(729.5), xref="paper", yref="paper",
                        showarrow=False, xanchor="left", yanchor="middle", align="left",
                        font=dict(family="Noto Sans, sans-serif", size=19, color="#231f20")))

# rounded outer border
x0, x1 = fx(9.3), fx(1287)
yt, yb = fy(8.3), fy(757)
rx, ry = 13 / W, 13 / H
path = (f"M {x0+rx},{yt} L {x1-rx},{yt} Q {x1},{yt} {x1},{yt-ry} "
        f"L {x1},{yb+ry} Q {x1},{yb} {x1-rx},{yb} "
        f"L {x0+rx},{yb} Q {x0},{yb} {x0},{yb+ry} "
        f"L {x0},{yt-ry} Q {x0},{yt} {x0+rx},{yt} Z")
layout["shapes"] = [dict(type="path", path=path, xref="paper", yref="paper",
                         line=dict(color="#1a1a1a", width=1.6), layer="below")]
layout["annotations"] = annotations

fig = go.Figure(data=traces, layout=layout)
fig.write_html("out.html")
